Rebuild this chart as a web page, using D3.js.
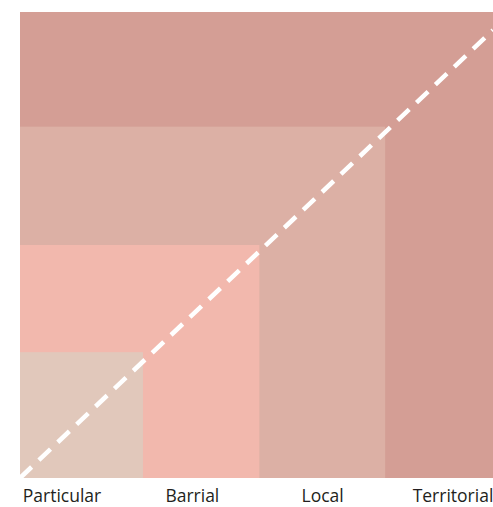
<!DOCTYPE html>
<html>
<head>
<meta charset="utf-8">
<script src="https://cdn.jsdelivr.net/npm/d3@7"></script>
<style>
  html, body { margin: 0; padding: 0; background: #ffffff; }
  svg { display: block; }
</style>
</head>
<body>
<script>
// Data
const categories = ["Particular", "Barrial", "Local", "Territorial"];
const extentX = [26.0, 50.6, 77.2, 100];   // horizontal reach of each nested square
const extentY = [27.0, 50.0, 75.4, 100];   // vertical reach of each nested square
const colors = ["#e1c8bb", "#f2b8ad", "#dcb0a5", "#d49e95"];
const diagonal = [[0, 0], [100, 96.1]];

const W = 493, H = 507;
const margin = { left: 20, right: 0, top: 12, bottom: 29 };

const svg = d3.select("body").append("svg")
  .attr("width", W).attr("height", H);

const x = d3.scaleLinear().domain([0, 100]).range([margin.left, W - margin.right]);
const y = d3.scaleLinear().domain([0, 100]).range([H - margin.bottom, margin.top]);

const data = categories.map((c, i) => ({ cat: c, ex: extentX[i], ey: extentY[i], color: colors[i] }));

// Draw largest first
svg.append("g").selectAll("rect")
  .data(data.slice().reverse())
  .join("rect")
  .attr("x", x(0))
  .attr("y", d => y(d.ey))
  .attr("width", d => x(d.ex) - x(0))
  .attr("height", d => y(0) - y(d.ey))
  .attr("fill", d => d.color);

// Dashed diagonal
svg.append("path")
  .datum(diagonal)
  .attr("d", d3.line().x(d => x(d[0])).y(d => y(d[1])))
  .attr("fill", "none")
  .attr("stroke", "#ffffff")
  .attr("stroke-width", 4.5)
  .attr("stroke-dasharray", "16 10");

// Category labels
const lx = d3.scalePoint().domain(categories).range([62, 453]);
svg.append("g").selectAll("text")
  .data(categories)
  .join("text")
  .attr("x", d => lx(d))
  .attr("y", 502)
  .attr("text-anchor", "middle")
  .attr("font-family", "'Open Sans', sans-serif")
  .attr("font-size", 17.5)
  .attr("fill", "#231f20")
  .text(d => d);
</script>
</body>
</html>
